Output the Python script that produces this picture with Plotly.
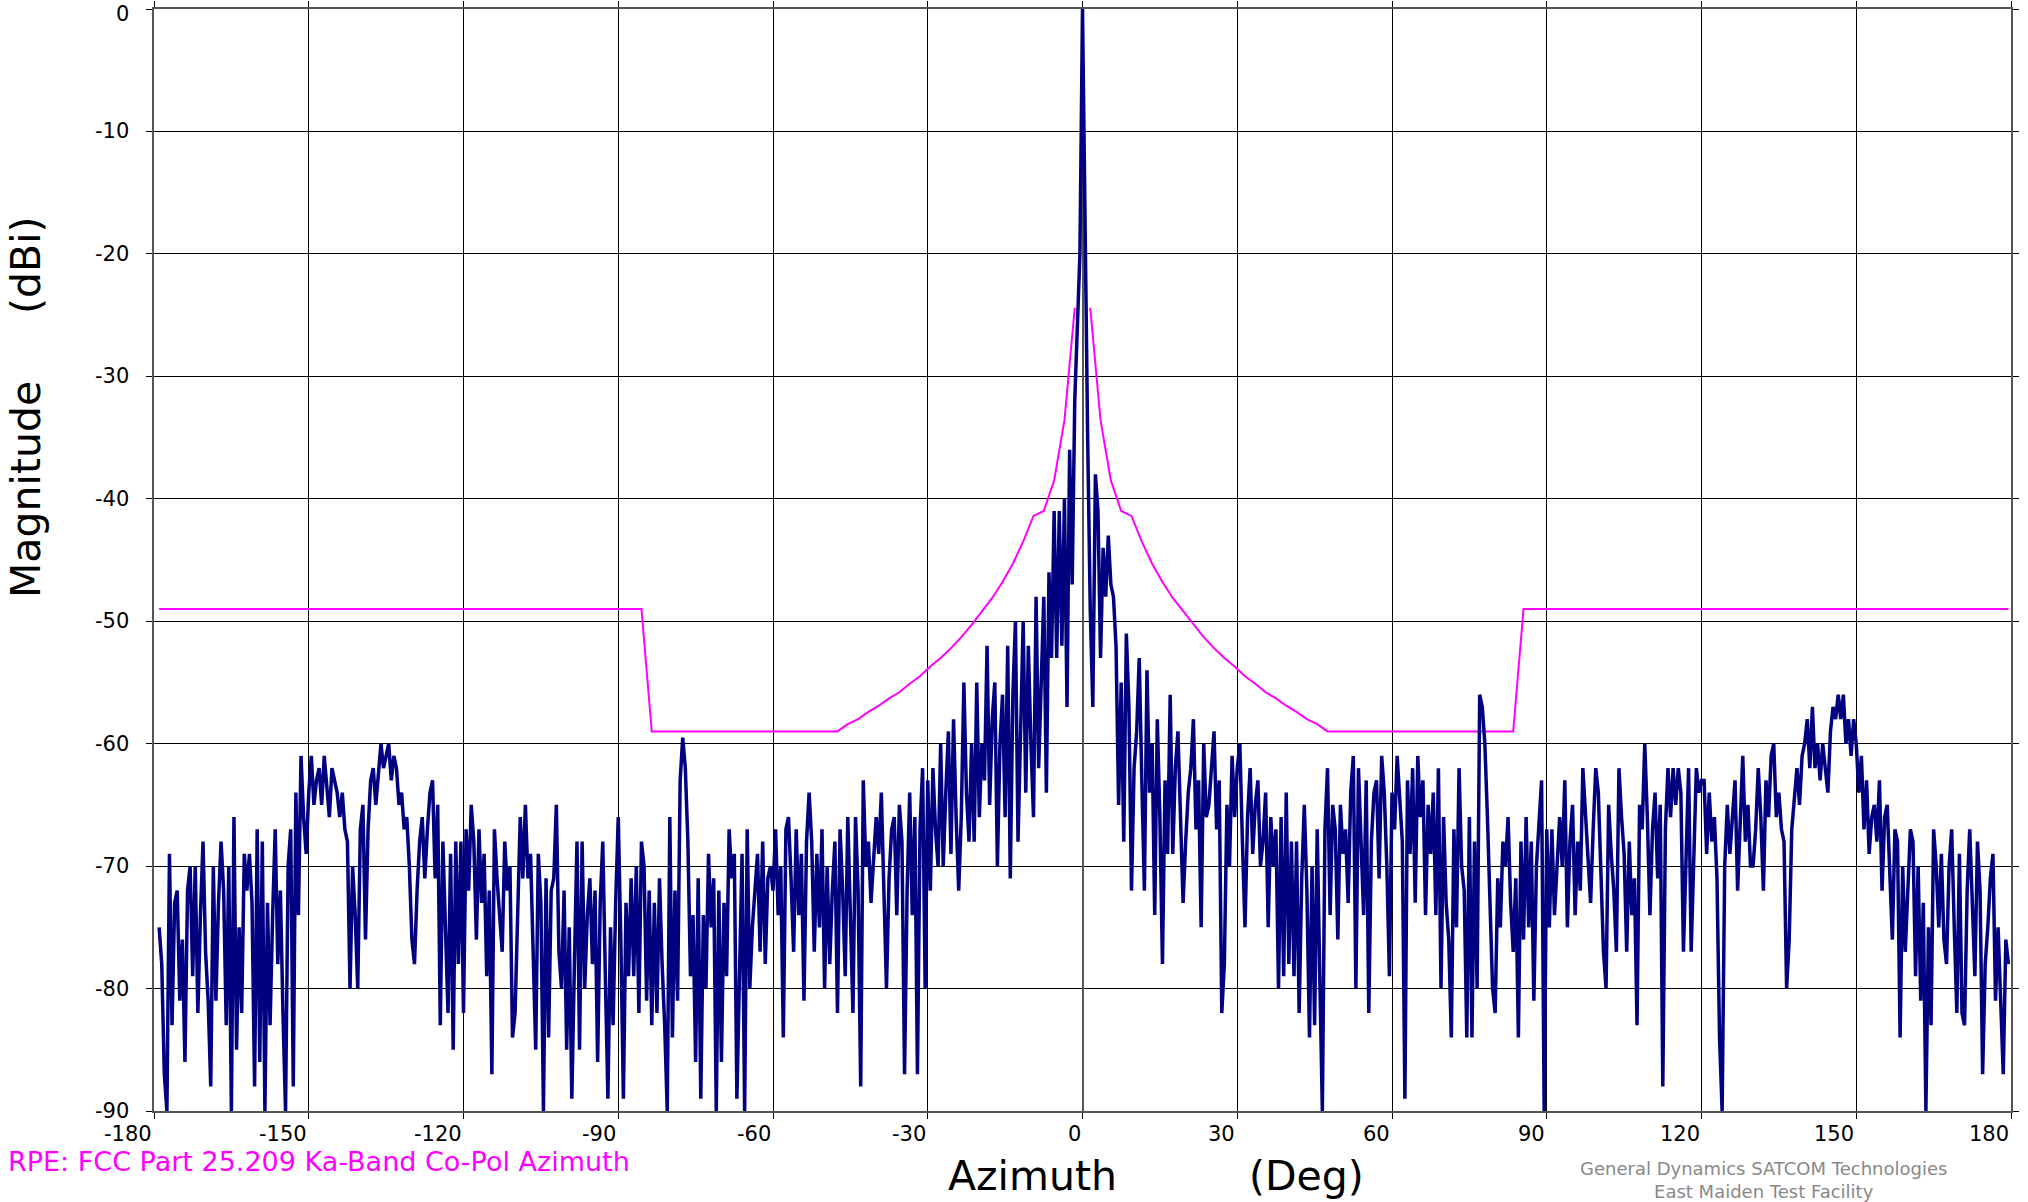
import plotly.graph_objects as go

# ---------------- data ----------------
AZ_START = -179.0   # first measured azimuth (deg)
AZ_STEP = 0.5       # sample spacing (deg)

# measured co-pol magnitude (dBi), west half: -179 .. -0.5
MAG_W1 = [-75, -78, -87, -90, -69, -83, -73, -72, -81, -76, -86, -72, -70, -79, -70, -82, -74, -68]
MAG_W2 = [-77, -81, -88, -70, -81, -73, -68, -72, -83, -70, -90, -66, -85, -75, -82, -69, -72, -69, -73, -88]
MAG_W3 = [-67, -86, -68, -90, -73, -83, -74, -67, -78, -72, -82, -90, -70, -67, -88, -64, -74, -61, -66, -69]
MAG_W4 = [-64, -61, -65, -63, -62, -65, -61, -64, -66, -62, -63, -64, -66, -64, -67, -68, -80, -70, -74, -80]
MAG_W5 = [-67, -65, -76, -67, -63, -62, -65, -62, -60, -62, -61, -60, -63, -61, -62, -65, -64, -67, -66, -70]
MAG_W6 = [-76, -78, -72, -68, -66, -71, -67, -64, -63, -71, -65, -83, -68, -75, -82, -69, -85, -68, -78, -68]
MAG_W7 = [-82, -67, -72, -65, -68, -76, -67, -73, -69, -79, -72, -87, -67, -71, -74, -77, -68, -72, -70, -84]
MAG_W8 = [-82, -74, -66, -71, -65, -71, -69, -77, -85, -69, -73, -90, -71, -84, -72, -71, -65, -77, -80, -72]
MAG_W9 = [-85, -75, -89, -78, -68, -85, -68, -80, -74, -71, -78, -72, -86, -73, -68, -79, -89, -75, -83, -73]
MAG_W10 = [-66, -76, -89, -73, -79, -71, -79, -70, -82, -68, -70, -81, -72, -83, -73, -82, -71, -78, -83, -90]
MAG_W11 = [-66, -84, -72, -81, -63, -59.5, -62, -68, -79, -74, -86, -71, -89, -74, -80, -69, -75, -71, -90, -72]
MAG_W12 = [-86, -73, -79, -67, -71, -69, -89, -79, -69, -90, -67, -80, -75, -72, -69, -77, -68, -78, -71, -70]
MAG_W13 = [-72, -67, -74, -70, -84, -67, -66, -71, -77, -67, -74, -69, -81, -68, -64, -68, -77, -69, -75, -67]
MAG_W14 = [-80, -70, -78, -72, -68, -82, -67, -72, -79, -66, -74, -82, -66, -72, -88, -63, -70, -68, -73, -70]
MAG_W15 = [-66, -69, -64, -72, -80, -71, -67, -66, -74, -65, -68, -87, -72, -64, -74, -66, -87, -67, -62, -80]
MAG_W16 = [-63, -72, -62, -67, -70, -60, -70, -64, -59, -69, -58, -66, -72, -66, -55, -64, -68, -60, -68, -55]
MAG_W17 = [-66, -60, -63, -52, -65, -58, -55, -70, -60, -56, -66, -52, -71, -56, -50, -68, -58, -50, -64, -52]
MAG_W18 = [-60, -66, -48, -62, -55, -48, -64, -46, -53, -41, -53, -41, -52, -40, -57, -36, -47, -32, -26, -20]

# east half: 0 .. 179.5
MAG_E1 = [0, -20, -35, -49, -57, -38, -41, -53, -44, -48, -43, -47, -48, -52, -65, -55, -68, -51, -57, -72]
MAG_E2 = [-62, -59, -53, -63, -72, -54, -64, -60, -74, -58, -66, -78, -63, -69, -56, -69, -62, -59, -65, -73]
MAG_E3 = [-68, -64, -62, -58, -67, -63, -75, -60, -66, -65, -62, -59, -67, -63, -82, -78, -65, -70, -61, -66]
MAG_E4 = [-62, -60, -68, -75, -66, -62, -69, -65, -63, -70, -68, -64, -75, -66, -70, -67, -80, -66, -79, -64]
MAG_E5 = [-78, -68, -79, -68, -82, -71, -65, -72, -84, -70, -83, -67, -79, -90, -67, -62, -74, -65, -67, -76]
MAG_E6 = [-65, -69, -67, -73, -64, -61, -80, -62, -68, -74, -63, -82, -68, -64, -63, -71, -61, -64, -70, -79]
MAG_E7 = [-64, -67, -61, -64, -68, -89, -63, -69, -62, -73, -61, -66, -63, -74, -65, -69, -64, -74, -62, -80]
MAG_E8 = [-66, -73, -76, -84, -67, -75, -62, -70, -72, -84, -66, -84, -68, -80, -56, -57, -60, -66, -72, -80]
MAG_E9 = [-82, -71, -75, -68, -70, -66, -73, -77, -71, -84, -68, -76, -66, -75, -68, -81, -70, -66, -63, -90]
MAG_E10 = [-67, -75, -67, -74, -70, -66, -70, -63, -75, -68, -65, -74, -68, -72, -62, -66, -69, -73, -67, -62]
MAG_E11 = [-64, -70, -77, -80, -65, -69, -72, -77, -62, -66, -69, -77, -68, -74, -71, -83, -65, -67, -60, -66]
MAG_E12 = [-74, -67, -64, -71, -65, -88, -67, -62, -66, -62, -65, -62, -64, -77, -69, -62, -77, -68, -62, -64]
MAG_E13 = [-63, -63, -69, -64, -68, -66, -71, -84, -90, -70, -65, -69, -66, -63, -72, -66, -61, -68, -65, -70]
MAG_E14 = [-70, -67, -62, -66, -72, -63, -66, -61, -60, -66, -64, -67, -68, -80, -76, -67, -64, -62, -65, -61]
MAG_E15 = [-60, -58, -62, -57, -62, -60, -63, -60, -62, -64, -59, -57, -58, -56, -58, -56, -60, -58, -61, -58]
MAG_E16 = [-60, -64, -61, -67, -63, -69, -66, -65, -68, -63, -72, -66, -65, -70, -76, -67, -68, -84, -70, -77]
MAG_E17 = [-72, -67, -68, -79, -70, -81, -73, -90, -75, -83, -67, -70, -75, -69, -76, -78, -70, -67, -75, -82]
MAG_E18 = [-69, -82, -83, -72, -67, -74, -79, -68, -72, -87, -78, -75, -71, -69, -81, -75, -82, -87, -76, -78]

# RPE mask (FCC 25.209 Ka-band), break points
MASK_AZ_WEST = [-179, -85.5, -83.5, -47.5, -45.5, -43.5, -41.5, -39.5, -37.5, -35.5, -33.5, -31.5,
                -29.5, -27.5, -25.5, -23.5, -21.5, -19.5, -17.5, -15.5, -13.5, -11.5, -9.5, -7.5,
                -5.5, -3.5, -1.5]
MASK_DB_WEST = [-49, -49, -59, -59, -58.4, -58.0, -57.4, -56.9, -56.3, -55.8, -55.1, -54.5,
                -53.7, -53.0, -52.2, -51.3, -50.3, -49.2, -48.1, -46.8, -45.3, -43.5, -41.4, -41.0,
                -38.5, -33.6, -24.4]
MASK_AZ_EAST = [1.5, 3.5, 5.5, 7.5, 9.5, 11.5, 13.5, 15.5, 17.5, 19.5, 21.5, 23.5, 25.5, 27.5,
                29.5, 31.5, 33.5, 35.5, 37.5, 39.5, 41.5, 43.5, 45.5, 47.5, 83.5, 85.5, 179.5]
MASK_DB_EAST = [-24.4, -33.6, -38.5, -41.0, -41.4, -43.5, -45.3, -46.8, -48.1, -49.2, -50.3, -51.3,
                -52.2, -53.0, -53.7, -54.5, -55.1, -55.8, -56.3, -56.9, -57.4, -58.0, -58.4, -59,
                -59, -49, -49]

X_TICKS = [-180, -150, -120, -90, -60, -30, 0, 30, 60, 90, 120, 150, 180]
X_TICK_LABELS = ["-180", "-150", "-120", "-90", "-60", "-30", "0", "30", "60", "90", "120", "150", "180"]
Y_TICKS = [0, -10, -20, -30, -40, -50, -60, -70, -80, -90]
Y_TICK_LABELS = ["0", "-10", "-20", "-30", "-40", "-50", "-60", "-70", "-80", "-90"]

CAPTION = "RPE: FCC Part 25.209 Ka-Band Co-Pol Azimuth"
CREDIT_LINES = ["General Dynamics SATCOM Technologies", "East Maiden Test Facility"]

# ---------------- assemble ----------------
west_blocks = [MAG_W1, MAG_W2, MAG_W3, MAG_W4, MAG_W5, MAG_W6, MAG_W7, MAG_W8, MAG_W9, MAG_W10,
               MAG_W11, MAG_W12, MAG_W13, MAG_W14, MAG_W15, MAG_W16, MAG_W17, MAG_W18]
east_blocks = [MAG_E1, MAG_E2, MAG_E3, MAG_E4, MAG_E5, MAG_E6, MAG_E7, MAG_E8, MAG_E9, MAG_E10,
               MAG_E11, MAG_E12, MAG_E13, MAG_E14, MAG_E15, MAG_E16, MAG_E17, MAG_E18]
for i, b in enumerate(west_blocks):
    need = 18 if i == 0 else 20
    if len(b) != need:
        raise ValueError(f"west block {i+1} has {len(b)} values")
for i, b in enumerate(east_blocks):
    if len(b) != 20:
        raise ValueError(f"east block {i+1} has {len(b)} values")

mag = [v for b in west_blocks for v in b] + [v for b in east_blocks for v in b]
az = [AZ_START + AZ_STEP * i for i in range(len(mag))]

mask_az = MASK_AZ_WEST + [None] + MASK_AZ_EAST
mask_db = MASK_DB_WEST + [None] + MASK_DB_EAST

FONT = "DejaVu Sans"
W, H = 2028, 1202
L, R, T, B = 154, 17, 9, 91
PH = H - T - B  # plot height in px


def py(page_y):
    """page pixel row -> paper y"""
    return (H - B - page_y) / PH


def px(page_x):
    """page pixel column -> paper x"""
    return (page_x - L) / (W - L - R)


fig = go.Figure()
fig.add_trace(go.Scatter(x=mask_az, y=mask_db, mode="lines",
                         line=dict(color="#FF00FF", width=2), connectgaps=False,
                         hoverinfo="skip"))
fig.add_trace(go.Scatter(x=az, y=mag, mode="lines",
                         line=dict(color="#000080", width=3.5)))

axis_common = dict(showgrid=True, gridcolor="black", gridwidth=1,
                   ticks="outside", ticklen=6, tickwidth=1, tickcolor="black",
                   showline=True, linecolor="#555555", linewidth=2, mirror="ticks",
                   automargin=False, showticklabels=False)

fig.update_xaxes(range=[-180, 180], tickvals=X_TICKS,
                 zeroline=True, zerolinecolor="#555555", zerolinewidth=2, **axis_common)
fig.update_yaxes(range=[-90, 0], tickvals=Y_TICKS, zeroline=False, **axis_common)

tick_font = dict(family=FONT, size=21, color="black")
annotations = []
# x tick labels: right-aligned to their tick, as in the reference
for v, t in zip(X_TICKS, X_TICK_LABELS):
    annotations.append(dict(x=v, xref="x", y=py(1134), yref="paper", text=t, showarrow=False,
                            xanchor="right", yanchor="middle", font=tick_font))
# y tick labels: right-aligned left of the axis; the top one kept inside the page
for v, t in zip(Y_TICKS, Y_TICK_LABELS):
    if v == 0:
        annotations.append(dict(x=px(131), xref="paper", y=py(0), yref="paper", text=t,
                                showarrow=False, xanchor="right", yanchor="top",
                                font=tick_font))
    else:
        annotations.append(dict(x=px(131), xref="paper", y=v, yref="y", text=t,
                                showarrow=False, xanchor="right", yanchor="middle",
                                font=tick_font))
annotations += [
    dict(x=px(1032), y=py(1202), xref="paper", yref="paper", text="Azimuth", showarrow=False,
         xanchor="center", yanchor="bottom", font=dict(family=FONT, size=41, color="black")),
    dict(x=px(1306), y=py(1202), xref="paper", yref="paper", text="(Deg)", showarrow=False,
         xanchor="center", yanchor="bottom", font=dict(family=FONT, size=41, color="black")),
    dict(x=px(26), y=py(490), xref="paper", yref="paper", text="Magnitude", showarrow=False,
         textangle=-90, xanchor="center", yanchor="middle",
         font=dict(family=FONT, size=41, color="black")),
    dict(x=px(26), y=py(265), xref="paper", yref="paper", text="(dBi)", showarrow=False,
         textangle=-90, xanchor="center", yanchor="middle",
         font=dict(family=FONT, size=41, color="black")),
    dict(x=px(6), y=py(1161), xref="paper", yref="paper", text=CAPTION, showarrow=False,
         xanchor="left", yanchor="middle", font=dict(family=FONT, size=27, color="#FF00FF")),
    dict(x=px(1763), y=py(1180), xref="paper", yref="paper", text="<br>".join(CREDIT_LINES),
         showarrow=False, align="center", xanchor="center", yanchor="middle",
         font=dict(family=FONT, size=18, color="#888888")),
]

fig.update_layout(width=W, height=H,
                  margin=dict(l=L, r=R, t=T, b=B, pad=0),
                  paper_bgcolor="white", plot_bgcolor="white",
                  showlegend=False, annotations=annotations,
                  font=dict(family=FONT, color="black"))

# remove the browser's default 8px body margin so the figure sits at the page origin
fig.write_html("out.html", config={"displayModeBar": False},
               post_script="document.body.style.margin='0';document.body.style.overflow='hidden';")
